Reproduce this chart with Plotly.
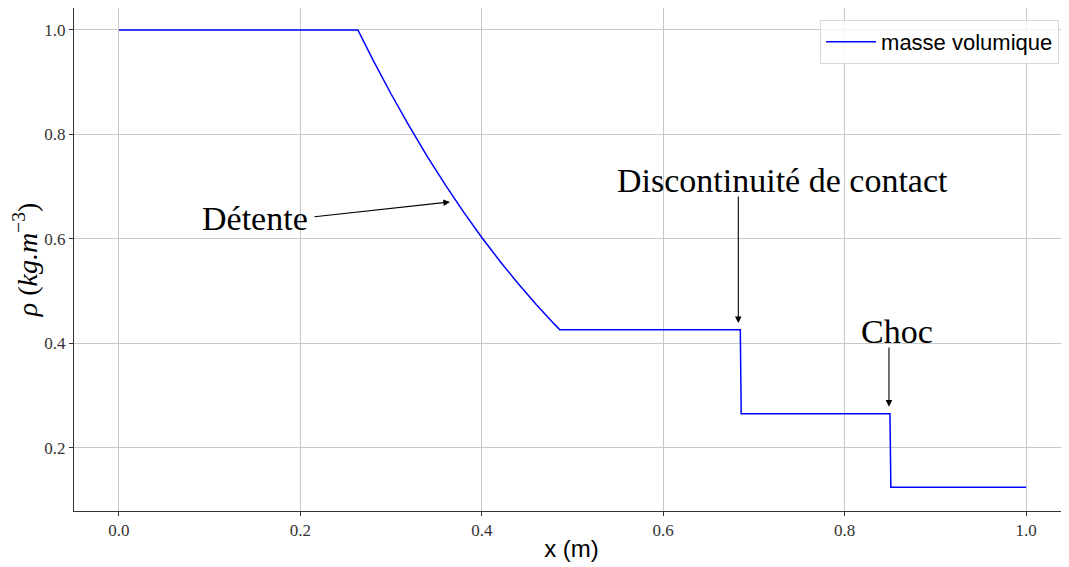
import plotly.graph_objects as go

# Density profile (Sod shock tube)
x_pos = [0.0, 0.2634, 0.28, 0.30, 0.32, 0.34, 0.36, 0.38, 0.40, 0.42, 0.44,
         0.46, 0.48, 0.486, 0.685, 0.686, 0.850, 0.851, 1.0]
rho = [1.0, 1.0, 0.9427, 0.8774, 0.8158, 0.7577, 0.7029, 0.6514, 0.6029,
       0.5574, 0.5146, 0.4745, 0.4370, 0.4263, 0.4263, 0.2656, 0.2656,
       0.125, 0.125]

series_name = "masse volumique"
x_ticks = [0.0, 0.2, 0.4, 0.6, 0.8, 1.0]
y_ticks = [0.2, 0.4, 0.6, 0.8, 1.0]
x_title = "x (m)"
y_title = "<i>ρ</i> (<i>kg.m</i><sup>−3</sup>)"

# annotations: text, text position, arrow tail, arrow head
ann_labels = ["Détente", "Discontinuité de contact", "Choc"]
ann_text_xy = [(0.150, 0.640), (0.7315, 0.711), (0.8574, 0.422)]
ann_tail_xy = [(0.2139, 0.6421), (0.6828, 0.6842), (0.8489, 0.3952)]
ann_head_xy = [(0.3649, 0.6708), (0.6828, 0.4392), (0.8489, 0.2790)]

serif = "Liberation Serif"

fig = go.Figure()
fig.add_trace(go.Scatter(x=x_pos, y=rho, mode="lines", name=series_name,
                         line=dict(color="#0000ff", width=1.5)))

annotations = []
for lab, (tx, ty) in zip(ann_labels, ann_text_xy):
    annotations.append(dict(x=tx, y=ty, xref="x", yref="y", text=lab,
                            showarrow=False,
                            font=dict(family=serif, size=34, color="black")))
for (ax_, ay_), (hx, hy) in zip(ann_tail_xy, ann_head_xy):
    annotations.append(dict(x=hx, y=hy, ax=ax_, ay=ay_, xref="x", yref="y",
                            axref="x", ayref="y", text="", showarrow=True,
                            arrowhead=2, arrowsize=1.2, arrowwidth=1.1,
                            arrowcolor="black", standoff=0, startstandoff=0))

# the page body has an 8px margin, so the figure is sized to fit the window;
# the right spine of the original lies just outside the picture
fig.update_layout(
    width=1061, height=559,
    margin=dict(l=66, r=0, t=0, b=56, autoexpand=False),
    paper_bgcolor="white", plot_bgcolor="white",
    showlegend=True,
    legend=dict(x=0.99, y=0.976, xanchor="right", yanchor="top",
                itemwidth=50,
                bgcolor="rgba(255,255,255,0.8)", bordercolor="#d8d8d8",
                borderwidth=1,
                font=dict(family="Liberation Sans", size=22, color="black")),
    annotations=annotations,
)
fig.update_xaxes(range=[-0.0496, 1.0474], tickvals=x_ticks,
                 ticktext=[f"{v:.1f}" for v in x_ticks],
                 automargin=False,
                 showgrid=True, gridcolor="#c8c8c8", gridwidth=1,
                 showline=True, linecolor="#333333", linewidth=1, mirror=True,
                 ticks="outside", ticklen=4, tickcolor="#333333",
                 zeroline=False,
                 tickfont=dict(family=serif, size=17, color="#333333"),
                 title=dict(text=x_title, standoff=0,
                            font=dict(family="Liberation Sans", size=24,
                                      color="black")))
fig.update_yaxes(range=[0.0794, 1.042], tickvals=y_ticks,
                 ticktext=[f"{v:.1f}" for v in y_ticks],
                 automargin=False,
                 showgrid=True, gridcolor="#c8c8c8", gridwidth=1,
                 showline=True, linecolor="#333333", linewidth=1, mirror=False,
                 ticks="outside", ticklen=4, tickcolor="#333333",
                 zeroline=False,
                 tickfont=dict(family=serif, size=17, color="#333333"),
                 title=dict(text=y_title, standoff=14,
                            font=dict(family=serif, size=28, color="black")))

fig.write_html("out.html")
